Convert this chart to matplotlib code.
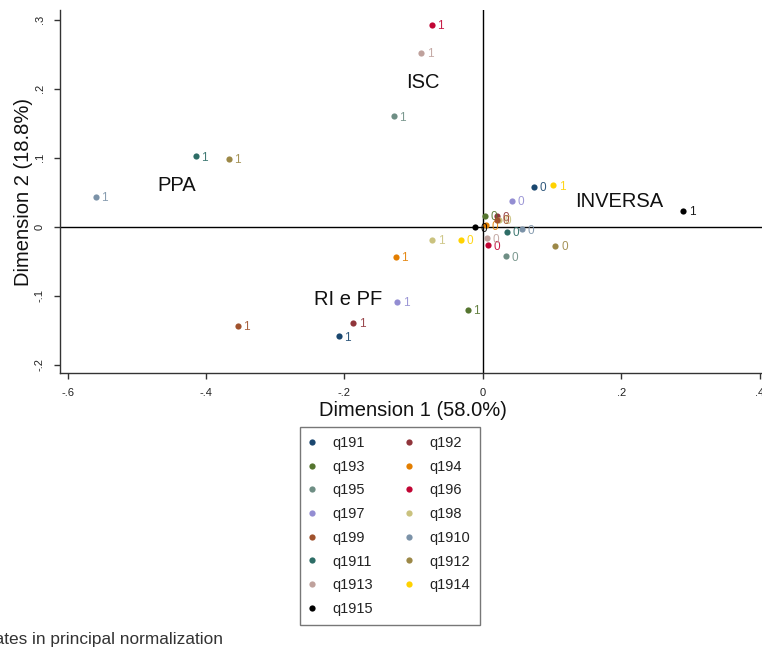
import matplotlib
matplotlib.use("Agg")
import matplotlib.pyplot as plt
from matplotlib.lines import Line2D

plt.rcParams['font.family'] = ['Liberation Sans', 'DejaVu Sans']

# ---- data ----
variables = ["q191", "q192", "q193", "q194", "q195", "q196", "q197", "q198",
             "q199", "q1910", "q1911", "q1912", "q1913", "q1914", "q1915"]
colors = ["#1a476f", "#90353b", "#55752f", "#e37e00", "#6e8e84", "#c10534",
          "#938dd2", "#cac27e", "#a0522d", "#7b92a8", "#2d6d66", "#9c8847",
          "#bfa19c", "#ffd200", "#000000"]
x_level0 = [0.074, 0.020, 0.003, 0.005, 0.034, 0.007, 0.042, 0.024,
            0.020, 0.056, 0.035, 0.105, 0.006, -0.032, -0.012]
y_level0 = [0.058, 0.015, 0.016, 0.002, -0.043, -0.027, 0.038, 0.010,
            0.010, -0.004, -0.007, -0.028, -0.017, -0.019, -0.001]
x_level1 = [-0.208, -0.187, -0.022, -0.126, -0.129, -0.074, -0.124, -0.073,
            -0.354, -0.559, -0.415, -0.367, -0.089, 0.102, 0.290]
y_level1 = [-0.159, -0.139, -0.120, -0.044, 0.160, 0.293, -0.109, -0.019,
            -0.144, 0.043, 0.102, 0.098, 0.252, 0.060, 0.023]
level_labels = ["0", "1"]

group_names = ["ISC", "PPA", "INVERSA", "RI e PF"]
group_x = [-0.087, -0.442, 0.197, -0.194]
group_y = [0.209, 0.060, 0.036, -0.105]

xticks = [-0.6, -0.4, -0.2, 0.0, 0.2, 0.4]
xtick_labels = ["-.6", "-.4", "-.2", "0", ".2", ".4"]
yticks = [-0.2, -0.1, 0.0, 0.1, 0.2, 0.3]
ytick_labels = ["-.2", "-.1", "0", ".1", ".2", ".3"]

# ---- figure ----
W, H = 762, 650
fig = plt.figure(figsize=(W / 100, H / 100), dpi=100)
xmin, xmax = -0.611, 0.41
ymin, ymax = -0.212, 0.314
left_px, bottom_px = 60, 373
xscale = 692.0
yscale = 690.0
ax_w = (xmax - xmin) * xscale
ax_h = (ymax - ymin) * yscale
ax = fig.add_axes([left_px / W, (H - bottom_px) / H, ax_w / W, ax_h / H])
ax.set_xlim(xmin, xmax)
ax.set_ylim(ymin, ymax)

ax.axhline(0, color="black", lw=1.0, zorder=1)
ax.axvline(0, color="black", lw=1.0, zorder=1)

for i, v in enumerate(variables):
    c = colors[i]
    for xs, ys, lab in ((x_level0, y_level0, level_labels[0]),
                        (x_level1, y_level1, level_labels[1])):
        ax.scatter([xs[i]], [ys[i]], s=20, color=c, zorder=3, linewidths=0)
        ax.annotate(lab, (xs[i], ys[i]), xytext=(4, -1), textcoords="offset points",
                    ha="left", va="center", fontsize=8.5, color=c, alpha=0.9, zorder=3)

for name, gx, gy in zip(group_names, group_x, group_y):
    ax.text(gx, gy, name, ha="center", va="center", fontsize=14.5, color="#111111")

for s in ["top", "right"]:
    ax.spines[s].set_visible(False)
for s in ["left", "bottom"]:
    ax.spines[s].set_color("#333333")
    ax.spines[s].set_linewidth(1.0)

ax.set_xticks(xticks)
ax.set_xticklabels(xtick_labels)
ax.set_yticks(yticks)
ax.set_yticklabels(ytick_labels, rotation=90, va="center")
ax.tick_params(axis="both", direction="out", length=4, width=1, color="#333333",
               labelsize=8, labelcolor="#222222", pad=7)

ax.set_xlabel("Dimension 1 (58.0%)", fontsize=14.5, labelpad=2, color="#111111")
ax.set_ylabel("Dimension 2 (18.8%)", fontsize=14.5, labelpad=1, color="#111111")

# legend: row-major order in two columns
handles = [Line2D([], [], marker="o", linestyle="none", markersize=4.5,
                  markerfacecolor=colors[i], markeredgewidth=0) for i in range(len(variables))]
order = list(range(0, len(variables), 2)) + list(range(1, len(variables), 2))
leg = fig.legend([handles[i] for i in order], [variables[i] for i in order],
                 ncol=2, loc="upper left", bbox_to_anchor=(300 / W, 1 - 427 / H),
                 frameon=True, fancybox=False, edgecolor="#555555",
                 fontsize=10.5, handlelength=0.4, handletextpad=1.2,
                 columnspacing=2.3, labelspacing=0.665, borderpad=0.62,
                 borderaxespad=0)
leg.get_frame().set_linewidth(1.0)
for t in leg.get_texts():
    t.set_color("#222222")

fig.text(223 / W, 1 - 644 / H, "Coordinates in principal normalization",
         ha="right", va="baseline", fontsize=12.4, color="#333333")

fig.savefig("out.png", dpi=100)
